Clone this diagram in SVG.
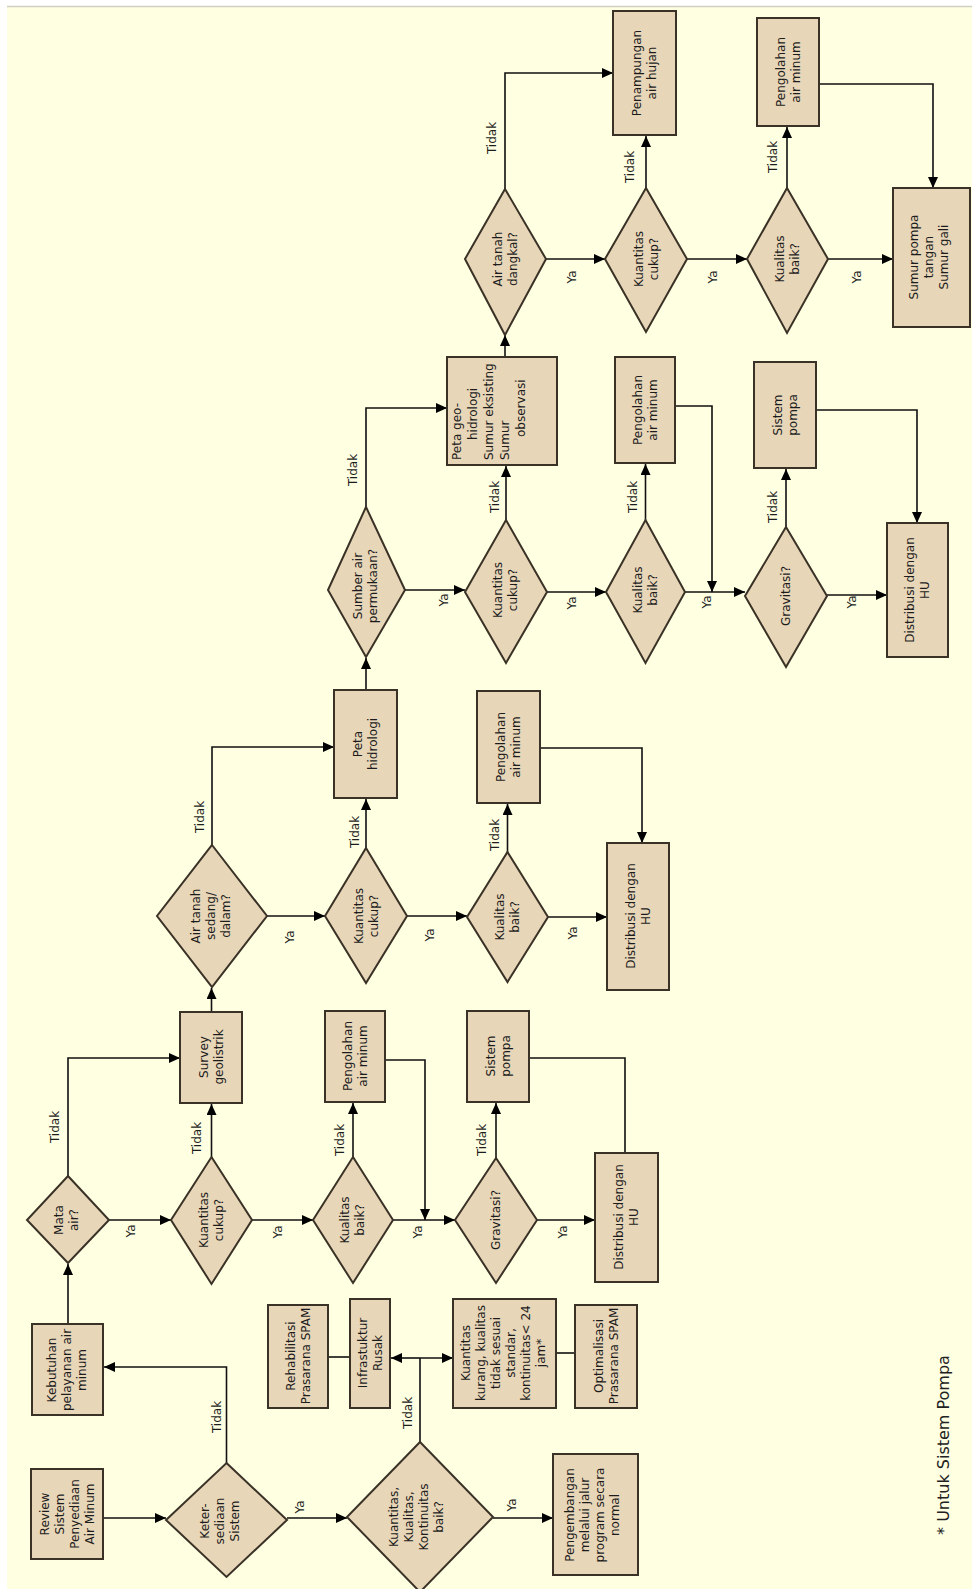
<svg xmlns="http://www.w3.org/2000/svg" width="972" height="1589" viewBox="0 0 972 1589">
<style>
.bx{fill:#E8D6B8;stroke:#3A3226;stroke-width:2}
.t{font-family:"DejaVu Sans",sans-serif;font-size:12px;fill:#1c1c1c;text-anchor:middle}
.c{fill:none;stroke:#111;stroke-width:1.6}
.a{marker-end:url(#ah)}
</style>
<defs>
<marker id="ah" markerUnits="userSpaceOnUse" markerWidth="12" markerHeight="10" refX="11" refY="5" orient="auto">
<path d="M0,0 L11,5 L0,10 z" fill="#000"/>
</marker>
</defs>
<rect x="0" y="0" width="972" height="1589" fill="#ffffff"/>
<rect x="7" y="6" width="965" height="1583" fill="#FFFFE1"/>
<line x1="7" y1="6.5" x2="972" y2="6.5" stroke="#cfcfc4" stroke-width="1.5"/>

<g id="connectors">
<path class="c a" d="M103,1518 H166"/>
<path class="c a" d="M226.5,1463 V1367 H104"/>
<path class="c a" d="M287,1518 H347"/>
<path class="c a" d="M68,1324 V1264"/>
<path class="c a" d="M109,1220 H171"/>
<path class="c a" d="M68,1176 V1058 H180"/>
<path class="c a" d="M211.5,1157 V1104"/>
<path class="c a" d="M252,1220 H313"/>
<path class="c a" d="M353,1157 V1103"/>
<path class="c a" d="M393,1220 H455"/>
<path class="c a" d="M385,1060 H425 V1220"/>
<path class="c a" d="M496,1158 V1103"/>
<path class="c a" d="M537,1220 H595"/>
<path class="c" d="M529,1058 H625 V1153"/>
<path class="c a" d="M211.5,1012 V988"/>
<path class="c a" d="M212,845 V747 H334"/>
<path class="c a" d="M267,916 H325"/>
<path class="c a" d="M366,848 V799"/>
<path class="c a" d="M407,916 H467"/>
<path class="c a" d="M507.5,852 V804"/>
<path class="c a" d="M548,917 H607"/>
<path class="c a" d="M540,748 H642 V843"/>
<path class="c a" d="M366,690 V658"/>
<path class="c a" d="M366,507 V408 H447"/>
<path class="c a" d="M405,590 H465"/>
<path class="c a" d="M506,520 V466"/>
<path class="c a" d="M547,592 H606"/>
<path class="c a" d="M645.5,520 V464"/>
<path class="c a" d="M685,592 H745"/>
<path class="c a" d="M675,406 H712 V592"/>
<path class="c a" d="M786,527 V469"/>
<path class="c a" d="M827,595 H887"/>
<path class="c a" d="M816,410 H917 V523"/>
<path class="c a" d="M505,357 V335"/>
<path class="c a" d="M505,189 V73 H613"/>
<path class="c a" d="M546,259 H605"/>
<path class="c a" d="M646,188 V136"/>
<path class="c a" d="M687,259 H747"/>
<path class="c a" d="M787,188 V127"/>
<path class="c a" d="M828,259 H893"/>
<path class="c a" d="M819,84 H933 V188"/>
<path class="c" d="M420,1442 V1358"/>
<path class="c a" d="M420,1358 H391"/>
<path class="c a" d="M420,1358 H453"/>
<path class="c" d="M328,1357 H350"/>
<path class="c" d="M556,1353 H575"/>
<path class="c a" d="M493,1518 H553"/>
<g class="t">
<text transform="translate(217,1417) rotate(-90)" y="4">Tidak</text>
<text transform="translate(300,1507) rotate(-90)" y="4">Ya</text>
<text transform="translate(131,1231) rotate(-90)" y="4">Ya</text>
<text transform="translate(55,1127) rotate(-90)" y="4">Tidak</text>
<text transform="translate(197,1138) rotate(-90)" y="4">Tidak</text>
<text transform="translate(278,1232) rotate(-90)" y="4">Ya</text>
<text transform="translate(340,1140) rotate(-90)" y="4">Tidak</text>
<text transform="translate(418,1232) rotate(-90)" y="4">Ya</text>
<text transform="translate(482,1140) rotate(-90)" y="4">Tidak</text>
<text transform="translate(563,1232) rotate(-90)" y="4">Ya</text>
<text transform="translate(200,817) rotate(-90)" y="4">Tidak</text>
<text transform="translate(290,937) rotate(-90)" y="4">Ya</text>
<text transform="translate(355,832) rotate(-90)" y="4">Tidak</text>
<text transform="translate(430,935) rotate(-90)" y="4">Ya</text>
<text transform="translate(495,835) rotate(-90)" y="4">Tidak</text>
<text transform="translate(573,933) rotate(-90)" y="4">Ya</text>
<text transform="translate(353,470) rotate(-90)" y="4">Tidak</text>
<text transform="translate(444,600) rotate(-90)" y="4">Ya</text>
<text transform="translate(495,497) rotate(-90)" y="4">Tidak</text>
<text transform="translate(572,603) rotate(-90)" y="4">Ya</text>
<text transform="translate(633,497) rotate(-90)" y="4">Tidak</text>
<text transform="translate(707,602) rotate(-90)" y="4">Ya</text>
<text transform="translate(773,507) rotate(-90)" y="4">Tidak</text>
<text transform="translate(852,602) rotate(-90)" y="4">Ya</text>
<text transform="translate(492,138) rotate(-90)" y="4">Tidak</text>
<text transform="translate(572,277) rotate(-90)" y="4">Ya</text>
<text transform="translate(630,167) rotate(-90)" y="4">Tidak</text>
<text transform="translate(713,277) rotate(-90)" y="4">Ya</text>
<text transform="translate(773,157) rotate(-90)" y="4">Tidak</text>
<text transform="translate(857,277) rotate(-90)" y="4">Ya</text>
<text transform="translate(408,1413) rotate(-90)" y="4">Tidak</text>
<text transform="translate(512,1505) rotate(-90)" y="4">Ya</text>
</g>
</g>

<g id="review"><rect class="bx" x="31" y="1469" width="72" height="90"/>
<text class="t" transform="translate(67,1514) rotate(-90)"><tspan x="0" y="-18.5">Review</tspan><tspan x="0" dy="15">Sistem</tspan><tspan x="0" dy="15">Penyediaan</tspan><tspan x="0" dy="15">Air Minum</tspan></text></g>

<g id="kebutuhan"><rect class="bx" x="32" y="1324" width="71" height="91"/>
<text class="t" transform="translate(67,1370) rotate(-90)"><tspan x="0" y="-11">Kebutuhan</tspan><tspan x="0" dy="15">pelayanan air</tspan><tspan x="0" dy="15">minum</tspan></text></g>

<g id="rehabilitasi"><rect class="bx" x="268" y="1305" width="60" height="103"/>
<text class="t" transform="translate(298,1356) rotate(-90)"><tspan x="0" y="-3.5">Rehabilitasi</tspan><tspan x="0" dy="15">Prasarana SPAM</tspan></text></g>

<g id="infrastuktur"><rect class="bx" x="350" y="1299" width="40" height="109"/>
<text class="t" transform="translate(370,1353) rotate(-90)"><tspan x="0" y="-3.5">Infrastuktur</tspan><tspan x="0" dy="15">Rusak</tspan></text></g>

<g id="kurang"><rect class="bx" x="453" y="1299" width="103" height="109"/>
<text class="t" transform="translate(503,1353) rotate(-90)"><tspan x="0" y="-33.5">Kuantitas</tspan><tspan x="0" dy="15">kurang, kualitas</tspan><tspan x="0" dy="15">tidak sesuai</tspan><tspan x="0" dy="15">standar,</tspan><tspan x="0" dy="15">kontinuitas&lt; 24</tspan><tspan x="0" dy="15">jam*</tspan></text></g>

<g id="optimalisasi"><rect class="bx" x="575" y="1305" width="62" height="103"/>
<text class="t" transform="translate(606,1356) rotate(-90)"><tspan x="0" y="-3.5">Optimalisasi</tspan><tspan x="0" dy="15">Prasarana SPAM</tspan></text></g>

<g id="pengembangan"><rect class="bx" x="553" y="1454" width="85" height="121"/>
<text class="t" transform="translate(592,1515) rotate(-90)"><tspan x="0" y="-18.5">Pengembangan</tspan><tspan x="0" dy="15">melalui jalur</tspan><tspan x="0" dy="15">program secara</tspan><tspan x="0" dy="15">normal</tspan></text></g>

<g id="survey"><rect class="bx" x="180" y="1012" width="62" height="91"/>
<text class="t" transform="translate(211,1057) rotate(-90)"><tspan x="0" y="-3.5">Survey</tspan><tspan x="0" dy="15">geolistrik</tspan></text></g>

<g id="pengolahan1"><rect class="bx" x="325" y="1011" width="60" height="91"/>
<text class="t" transform="translate(355,1056) rotate(-90)"><tspan x="0" y="-3.5">Pengolahan</tspan><tspan x="0" dy="15">air minum</tspan></text></g>

<g id="pompa1"><rect class="bx" x="467" y="1011" width="62" height="91"/>
<text class="t" transform="translate(498,1056) rotate(-90)"><tspan x="0" y="-3.5">Sistem</tspan><tspan x="0" dy="15">pompa</tspan></text></g>

<g id="distribusi1"><rect class="bx" x="595" y="1153" width="63" height="129"/>
<text class="t" transform="translate(626,1217) rotate(-90)"><tspan x="0" y="-3.5">Distribusi dengan</tspan><tspan x="0" dy="15">HU</tspan></text></g>

<g id="petahidrologi"><rect class="bx" x="334" y="690" width="63" height="108"/>
<text class="t" transform="translate(365,744) rotate(-90)"><tspan x="0" y="-3.5">Peta</tspan><tspan x="0" dy="15">hidrologi</tspan></text></g>

<g id="pengolahan2"><rect class="bx" x="477" y="691" width="63" height="112"/>
<text class="t" transform="translate(508,747) rotate(-90)"><tspan x="0" y="-3.5">Pengolahan</tspan><tspan x="0" dy="15">air minum</tspan></text></g>

<g id="distribusi2"><rect class="bx" x="607" y="843" width="62" height="147"/>
<text class="t" transform="translate(638,916) rotate(-90)"><tspan x="0" y="-3.5">Distribusi dengan</tspan><tspan x="0" dy="15">HU</tspan></text></g>

<g id="petageo"><rect class="bx" x="447" y="357" width="110" height="108"/>
<text class="t" style="text-anchor:start" transform="translate(502,411) rotate(-90)"><tspan x="-49" y="-41">Peta geo-</tspan><tspan x="-29" dy="16">hidrologi</tspan><tspan x="-49" dy="16">Sumur eksisting</tspan><tspan x="-49" dy="16">Sumur</tspan><tspan x="-26" dy="16">observasi</tspan></text></g>

<g id="pengolahan3"><rect class="bx" x="615" y="357" width="60" height="106"/>
<text class="t" transform="translate(645,410) rotate(-90)"><tspan x="0" y="-3.5">Pengolahan</tspan><tspan x="0" dy="15">air minum</tspan></text></g>

<g id="pompa3"><rect class="bx" x="754" y="362" width="62" height="106"/>
<text class="t" transform="translate(785,415) rotate(-90)"><tspan x="0" y="-3.5">Sistem</tspan><tspan x="0" dy="15">pompa</tspan></text></g>

<g id="distribusi3"><rect class="bx" x="887" y="523" width="61" height="134"/>
<text class="t" transform="translate(917,590) rotate(-90)"><tspan x="0" y="-3.5">Distribusi dengan</tspan><tspan x="0" dy="15">HU</tspan></text></g>

<g id="penampungan"><rect class="bx" x="613" y="11" width="63" height="124"/>
<text class="t" transform="translate(644,73) rotate(-90)"><tspan x="0" y="-3.5">Penampungan</tspan><tspan x="0" dy="15">air hujan</tspan></text></g>

<g id="pengolahan4"><rect class="bx" x="757" y="18" width="62" height="108"/>
<text class="t" transform="translate(788,72) rotate(-90)"><tspan x="0" y="-3.5">Pengolahan</tspan><tspan x="0" dy="15">air minum</tspan></text></g>

<g id="sumur"><rect class="bx" x="893" y="188" width="77" height="139"/>
<text class="t" transform="translate(929,257) rotate(-90)"><tspan x="0" y="-11">Sumur pompa</tspan><tspan x="0" dy="15">tangan</tspan><tspan x="0" dy="15">Sumur gali</tspan></text></g>

<g id="keter"><polygon class="bx" points="226.5,1463 287,1520 226.5,1577 166,1520"/>
<text class="t" transform="translate(220,1521) rotate(-90)"><tspan x="0" y="-11">Keter-</tspan><tspan x="0" dy="15">sediaan</tspan><tspan x="0" dy="15">Sistem</tspan></text></g>

<g id="mata"><polygon class="bx" points="68,1176 109,1220 68,1263 27,1220"/>
<text class="t" transform="translate(66,1220) rotate(-90)"><tspan x="0" y="-3.5">Mata</tspan><tspan x="0" dy="15">air?</tspan></text></g>

<g id="kuantitas1"><polygon class="bx" points="211.5,1157 252,1220 211.5,1284 171,1220"/>
<text class="t" transform="translate(211,1220) rotate(-90)"><tspan x="0" y="-3.5">Kuantitas</tspan><tspan x="0" dy="15">cukup?</tspan></text></g>

<g id="kualitas1"><polygon class="bx" points="353,1157 393,1220 353,1283 313,1220"/>
<text class="t" transform="translate(352,1220) rotate(-90)"><tspan x="0" y="-3.5">Kualitas</tspan><tspan x="0" dy="15">baik?</tspan></text></g>

<g id="gravitasi1"><polygon class="bx" points="496,1158 537,1220 496,1283 455,1220"/>
<text class="t" transform="translate(496,1220) rotate(-90)"><tspan x="0" y="4">Gravitasi?</tspan></text></g>

<g id="kkk"><polygon class="bx" points="420,1442 493,1517 420,1592 347,1517"/>
<text class="t" transform="translate(416,1517) rotate(-90)"><tspan x="0" y="-18.5">Kuantitas,</tspan><tspan x="0" dy="15">Kualitas,</tspan><tspan x="0" dy="15">Kontinuitas</tspan><tspan x="0" dy="15">baik?</tspan></text></g>

<g id="airtanahsedang"><polygon class="bx" points="212,845 267,916 212,987 157,916"/>
<text class="t" transform="translate(211,916) rotate(-90)"><tspan x="0" y="-11">Air tanah</tspan><tspan x="0" dy="15">sedang/</tspan><tspan x="0" dy="15">dalam?</tspan></text></g>

<g id="kuantitas2"><polygon class="bx" points="366,848 407,916 366,983 325,916"/>
<text class="t" transform="translate(366,916) rotate(-90)"><tspan x="0" y="-3.5">Kuantitas</tspan><tspan x="0" dy="15">cukup?</tspan></text></g>

<g id="kualitas2"><polygon class="bx" points="507.5,852 548,917 507.5,982 467,917"/>
<text class="t" transform="translate(507,917) rotate(-90)"><tspan x="0" y="-3.5">Kualitas</tspan><tspan x="0" dy="15">baik?</tspan></text></g>

<g id="sumber"><polygon class="bx" points="366,507 405,590 366,657 328,590"/>
<text class="t" transform="translate(365,586) rotate(-90)"><tspan x="0" y="-3.5">Sumber air</tspan><tspan x="0" dy="15">permukaan?</tspan></text></g>

<g id="kuantitas3"><polygon class="bx" points="506,520 547,592 506,663 465,592"/>
<text class="t" transform="translate(505,590) rotate(-90)"><tspan x="0" y="-3.5">Kuantitas</tspan><tspan x="0" dy="15">cukup?</tspan></text></g>

<g id="kualitas3"><polygon class="bx" points="645.5,520 685,592 645.5,663 606,592"/>
<text class="t" transform="translate(645,590) rotate(-90)"><tspan x="0" y="-3.5">Kualitas</tspan><tspan x="0" dy="15">baik?</tspan></text></g>

<g id="gravitasi3"><polygon class="bx" points="786,527 827,596 786,667 745,596"/>
<text class="t" transform="translate(786,596) rotate(-90)"><tspan x="0" y="4">Gravitasi?</tspan></text></g>

<g id="airdangkal"><polygon class="bx" points="505,189 546,259 505,335 465,259"/>
<text class="t" transform="translate(505,259) rotate(-90)"><tspan x="0" y="-3.5">Air tanah</tspan><tspan x="0" dy="15">dangkal?</tspan></text></g>

<g id="kuantitas4"><polygon class="bx" points="646,188 687,259 646,332 605,259"/>
<text class="t" transform="translate(646,259) rotate(-90)"><tspan x="0" y="-3.5">Kuantitas</tspan><tspan x="0" dy="15">cukup?</tspan></text></g>

<g id="kualitas4"><polygon class="bx" points="787,188 828,259 787,333 747,259"/>
<text class="t" transform="translate(787,259) rotate(-90)"><tspan x="0" y="-3.5">Kualitas</tspan><tspan x="0" dy="15">baik?</tspan></text></g>

<text id="footnote" transform="translate(943,1445) rotate(-90)" y="6" style="font-family:'DejaVu Sans',sans-serif;font-size:16px;fill:#222;text-anchor:middle">* Untuk Sistem Pompa</text>
</svg>
